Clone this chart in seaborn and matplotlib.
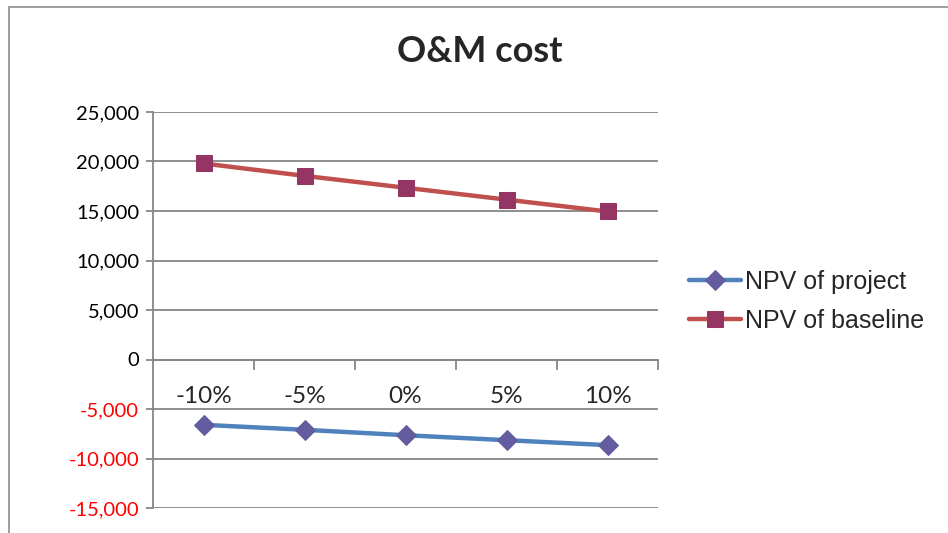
import numpy as np
import pandas as pd
import matplotlib
matplotlib.use("Agg")
import matplotlib.pyplot as plt
from matplotlib.patches import Rectangle
from matplotlib.ticker import FixedLocator, FuncFormatter
import seaborn as sns

# ── data ─────────────────────────────────────────────────────────────────────
categories = ["-10%", "-5%", "0%", "5%", "10%"]
npv_project = [-6600, -7100, -7650, -8150, -8650]
npv_baseline = [19800, 18550, 17350, 16150, 14950]
series = ["NPV of project", "NPV of baseline"]
y_ticks = [-15000, -10000, -5000, 0, 5000, 10000, 15000, 20000, 25000]

sns.set_style("white")
plt.rcParams["font.family"] = ["Lato", "DejaVu Sans"]

W, H = 948, 533
fig = plt.figure(figsize=(W / 100, H / 100), dpi=100)

# chart-area border (Excel style)
fig.patches.append(Rectangle((9 / W, -0.1), 1.2, 1.1 - 7 / H,
                             transform=fig.transFigure, fill=False,
                             edgecolor="#8c8c8c", linewidth=1.2))

ax = fig.add_axes([153 / W, 1 - 508 / H, (658 - 153) / W, (508 - 112) / H])

pos = np.arange(len(categories))
styles = [
    (npv_project, "#4F81BD", "D", "#635C9E", 10),
    (npv_baseline, "#C0504D", "s", "#953563", 12),
]
for name, (vals, col, mk, mfc, ms) in zip(series, styles):
    sns.lineplot(x=pos, y=vals, color=col, marker=mk, markersize=ms,
                 markerfacecolor=mfc, markeredgecolor=mfc, linewidth=3.2,
                 label=name, ax=ax, zorder=3)

ax.set_xlim(-0.5, len(categories) - 0.5)
ax.set_ylim(y_ticks[0], y_ticks[-1])
ax.yaxis.set_major_locator(FixedLocator(y_ticks))
ax.yaxis.set_major_formatter(FuncFormatter(lambda v, p: f"{int(v):,}"))
ax.grid(axis="y", color="#868686", linewidth=1.3, zorder=0)
ax.grid(axis="x", visible=False)

for s in ["top", "right"]:
    ax.spines[s].set_visible(False)
ax.spines["left"].set_color("#868686")
ax.spines["left"].set_linewidth(1.3)
ax.spines["bottom"].set_position(("data", 0))
ax.spines["bottom"].set_color("#868686")
ax.spines["bottom"].set_linewidth(1.3)

ax.tick_params(axis="y", direction="out", length=5, width=1.3,
               color="#868686", labelsize=14.5, pad=5, left=True)
for lab, v in zip(ax.get_yticklabels(), y_ticks):
    lab.set_color("red" if v < 0 else "black")

# category labels under the zero line, tick marks between categories
ax.set_xticks(pos)
ax.set_xticklabels(categories)
ax.set_xticks(np.arange(len(categories)) + 0.5, minor=True)
ax.tick_params(axis="x", which="major", length=0, labelsize=17.5, pad=19)
ax.tick_params(axis="x", which="minor", direction="out", length=7, width=1.3,
               color="#868686", bottom=True)
ax.set_xlabel("")
ax.set_ylabel("")

fig.text(480 / W, 1 - 52 / H, "O&M cost", ha="center", va="center",
         fontsize=26, fontweight="bold")

handles, labels = ax.get_legend_handles_labels()
ax.legend(handles, labels, loc="center left",
          bbox_to_anchor=(676 / W, 1 - 301 / H), bbox_transform=fig.transFigure,
          frameon=False, handlelength=2.1, handletextpad=0.15,
          labelspacing=0.6, borderpad=0,
          prop={"family": "Liberation Sans", "size": 18})

fig.savefig("out.png", dpi=100)
